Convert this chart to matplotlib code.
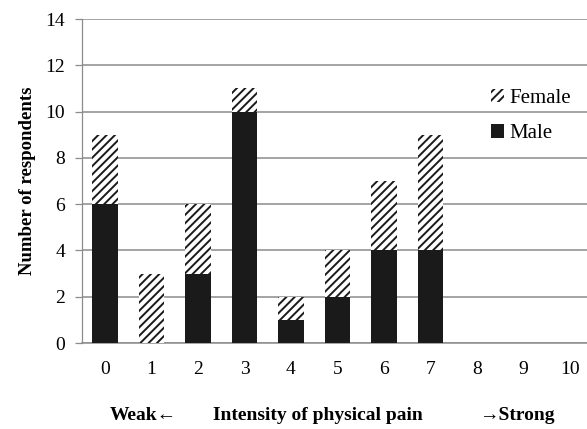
import matplotlib
matplotlib.use('Agg')
import matplotlib.pyplot as plt
import numpy as np

plt.rcParams['font.family'] = ['Liberation Serif', 'DejaVu Serif']
plt.rcParams['hatch.linewidth'] = 1.4
plt.rcParams['hatch.color'] = '#1a1a1a'

# pain intensity 0..10
levels = [0, 1, 2, 3, 4, 5, 6, 7, 8, 9, 10]
male = [6, 0, 3, 10, 1, 2, 4, 4, 0, 0, 0]
female = [3, 3, 3, 1, 1, 2, 3, 5, 0, 0, 0]
yticks = [0, 2, 4, 6, 8, 10, 12, 14]

fig = plt.figure(figsize=(5.87, 4.29), dpi=100)
ax = fig.add_axes([81.7 / 587, 86 / 429, (587 - 81.7) / 587, 324 / 429])

x = np.array(levels)
ax.bar(x, male, width=0.55, color='#1a1a1a', linewidth=0, label='Male', zorder=3)
ax.bar(x, female, width=0.55, bottom=male, color='white', edgecolor='#1a1a1a',
       hatch='////', linewidth=0, label='Female', zorder=3)

ax.set_xlim(-0.5, -0.5 + 505.3 / 46.5)
ax.set_ylim(0, 14)
ax.set_yticks(yticks)
ax.set_xticks(levels)
ax.yaxis.grid(True, color='#8c8c8c', linewidth=1.1, zorder=0)

for s in ['top', 'right']:
    ax.spines[s].set_visible(False)
ax.spines['left'].set_color('#8c8c8c')
ax.spines['left'].set_linewidth(0.9)
ax.spines['bottom'].set_color('#8c8c8c')
ax.spines['bottom'].set_linewidth(1.1)

ax.tick_params(axis='y', length=5, width=0.9, color='#8c8c8c', labelsize=14, pad=7)
ax.tick_params(axis='x', length=0, labelsize=14, pad=13)

ax.set_ylabel('Number of respondents', fontsize=13.5, fontweight='bold', labelpad=7)

fig.text(143 / 587, 1 - 415 / 429, 'Weak←', ha='center', va='center', fontsize=14, fontweight='bold')
fig.text(318 / 587, 1 - 415 / 429, 'Intensity of physical pain', ha='center', va='center',
         fontsize=14, fontweight='bold')
fig.text(517 / 587, 1 - 415 / 429, '→Strong', ha='center', va='center', fontsize=14, fontweight='bold')

handles, labels = ax.get_legend_handles_labels()
leg = ax.legend(handles[::-1], labels[::-1], loc='upper left', bbox_to_anchor=(0.782, 0.83),
                frameon=False, fontsize=15, handlelength=0.6, handleheight=0.6,
                handletextpad=0.25, labelspacing=0.8, borderpad=0.2)

fig.savefig('out.png', dpi=100)
